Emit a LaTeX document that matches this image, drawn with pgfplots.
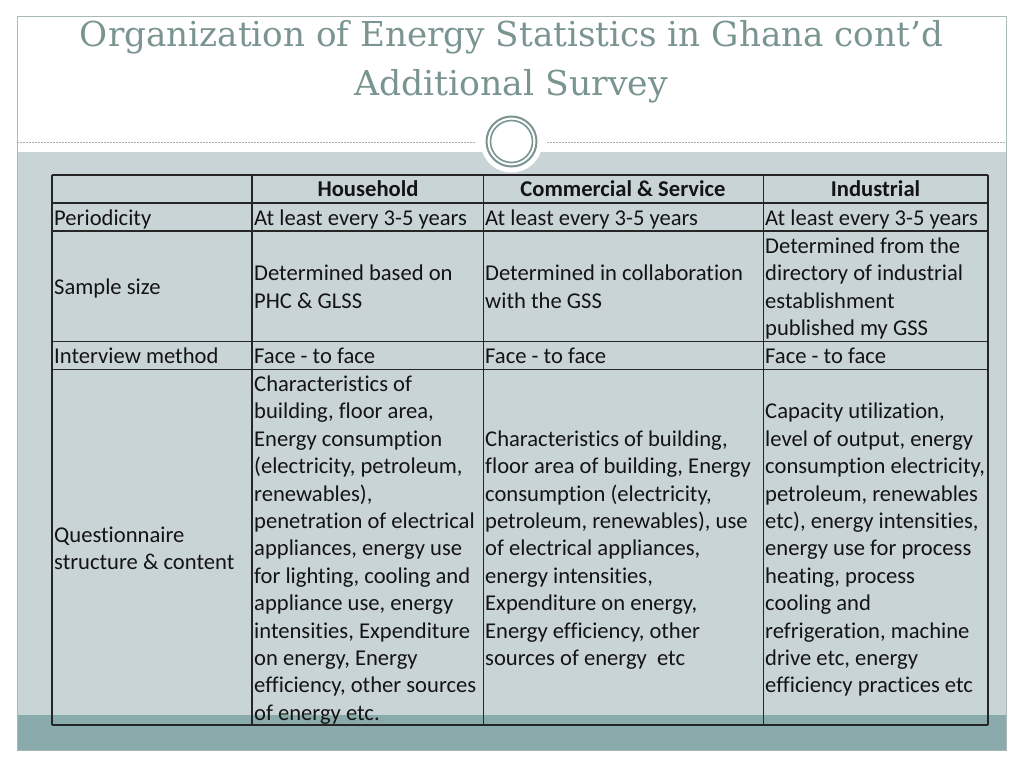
\documentclass[border=0pt]{standalone}
\usepackage{pgfplots}
\pgfplotsset{compat=1.18}
\usepackage{fontspec}
\usepackage{graphicx}
\setmainfont{Carlito}[Ligatures=NoCommon]
\newfontfamily\titlefont{DejaVu Serif}
\definecolor{titlecol}{RGB}{122,149,145}
\definecolor{bandcol}{RGB}{201,212,215}
\definecolor{tealcol}{RGB}{138,171,171}
\definecolor{framecol}{RGB}{170,184,182}
\definecolor{dashcol}{RGB}{165,175,175}
\definecolor{txt}{RGB}{20,20,20}
\newcommand{\Ln}[3]{\node[anchor=base west,inner sep=0pt,text=txt] at (axis cs:#1,#2) {#3};}
\begin{document}
\begin{tikzpicture}
\begin{axis}[hide axis, scale only axis, width=1024pt, height=768pt,
  xmin=0, xmax=1024, ymin=0, ymax=768, y dir=reverse, clip=false,
  font=\fontsize{22.6}{27.4}\selectfont]
% backgrounds
\fill[white] (axis cs:0,0) rectangle (axis cs:1024,768);
\fill[bandcol] (axis cs:17,152) rectangle (axis cs:1006,715);
\fill[tealcol] (axis cs:17,715) rectangle (axis cs:1006,750);
\draw[framecol, line width=1pt] (axis cs:17,17) rectangle (axis cs:1006,750);
\draw[dashcol, line width=1pt, dash pattern=on 2pt off 1pt] (axis cs:17,142.5) -- (axis cs:476,142.5);
\draw[dashcol, line width=1pt, dash pattern=on 2pt off 1pt] (axis cs:547,142.5) -- (axis cs:1006,142.5);
\fill[white] (axis cs:511.5,141.5) circle[radius=31pt];
\draw[titlecol, line width=2pt] (axis cs:511.5,141.5) circle[radius=25pt];
\draw[titlecol, line width=1.6pt] (axis cs:511.5,141.5) circle[radius=21pt];
% title
\node[anchor=base, inner sep=0pt, text=titlecol] at (axis cs:511.5,46.7)
  {\resizebox{863pt}{\height}{\titlefont\fontsize{34.3}{40}\selectfont Organization of Energy Statistics in Ghana cont’d}};
\node[anchor=base, inner sep=0pt, text=titlecol] at (axis cs:511,95)
  {\resizebox{314pt}{\height}{\titlefont\fontsize{34.3}{40}\selectfont Additional Survey}};
% table rules
\addplot[black!85, line width=1.1pt] coordinates {(52,175) (988,175)};
\addplot[black!85, line width=1.1pt] coordinates {(52,203) (988,203)};
\addplot[black!85, line width=1.1pt] coordinates {(52,231) (988,231)};
\addplot[black!85, line width=1.1pt] coordinates {(52,341.5) (988,341.5)};
\addplot[black!85, line width=1.1pt] coordinates {(52,369.5) (988,369.5)};
\addplot[black!85, line width=1.1pt] coordinates {(52,725) (988,725)};
\addplot[black!85, line width=1.1pt] coordinates {(52,175) (52,725)};
\addplot[black!85, line width=1.1pt] coordinates {(252,175) (252,725)};
\addplot[black!85, line width=1.1pt] coordinates {(483.5,175) (483.5,725)};
\addplot[black!85, line width=1.1pt] coordinates {(763.5,175) (763.5,725)};
\addplot[black!85, line width=1.1pt] coordinates {(988,175) (988,725)};
% header
\node[anchor=base,inner sep=0pt,text=txt,font=\fontsize{22.6}{27.4}\selectfont\bfseries] at (axis cs:368,196.5) {Household};
\node[anchor=base,inner sep=0pt,text=txt,font=\fontsize{22.6}{27.4}\selectfont\bfseries] at (axis cs:623,196.5) {Commercial \& Service};
\node[anchor=base,inner sep=0pt,text=txt,font=\fontsize{22.6}{27.4}\selectfont\bfseries] at (axis cs:875.5,196.5) {Industrial};
% periodicity
\Ln{54}{225}{Periodicity}
\Ln{254}{225}{At least every 3-5 years}
\Ln{485}{225}{At least every 3-5 years}
\Ln{765}{225}{At least every 3-5 years}
% sample size
\Ln{54}{294.5}{Sample size}
\Ln{254}{280.5}{Determined based on}
\Ln{254}{308}{PHC \& GLSS}
\Ln{485}{280.5}{Determined in collaboration}
\Ln{485}{308}{with the GSS}
\Ln{765}{253}{Determined from the}
\Ln{765}{280.5}{directory of industrial}
\Ln{765}{308}{establishment}
\Ln{765}{335.5}{published my GSS}
% interview
\Ln{54}{363.5}{Interview method}
\Ln{254}{363.5}{Face - to face}
\Ln{485}{363.5}{Face - to face}
\Ln{765}{363.5}{Face - to face}
% questionnaire
\Ln{54}{542.2}{Questionnaire}
\Ln{54}{569.6}{structure \& content}
\Ln{254}{391.5}{Characteristics of}
\Ln{254}{418.9}{building, floor area,}
\Ln{254}{446.3}{Energy consumption}
\Ln{254}{473.7}{(electricity, petroleum,}
\Ln{254}{501.1}{renewables),}
\Ln{254}{528.5}{penetration of electrical}
\Ln{254}{555.9}{appliances, energy use}
\Ln{254}{583.3}{for lighting, cooling and}
\Ln{254}{610.7}{appliance use, energy}
\Ln{254}{638.1}{intensities, Expenditure}
\Ln{254}{665.5}{on energy, Energy}
\Ln{254}{692.9}{efficiency, other sources}
\Ln{254}{720.3}{of energy etc.}
\Ln{485}{446.3}{Characteristics of building,}
\Ln{485}{473.7}{floor area of building, Energy}
\Ln{485}{501.1}{consumption (electricity,}
\Ln{485}{528.5}{petroleum, renewables), use}
\Ln{485}{555.9}{of electrical appliances,}
\Ln{485}{583.3}{energy intensities,}
\Ln{485}{610.7}{Expenditure on energy,}
\Ln{485}{638.1}{Energy efficiency, other}
\Ln{485}{665.5}{sources of energy\ \ etc}
\Ln{765}{418.9}{Capacity utilization,}
\Ln{765}{446.3}{level of output, energy}
\Ln{765}{473.7}{consumption electricity,}
\Ln{765}{501.1}{petroleum, renewables}
\Ln{765}{528.5}{etc), energy intensities,}
\Ln{765}{555.9}{energy use for process}
\Ln{765}{583.3}{heating, process}
\Ln{765}{610.7}{cooling and}
\Ln{765}{638.1}{refrigeration, machine}
\Ln{765}{665.5}{drive etc, energy}
\Ln{765}{692.9}{efficiency practices etc}
\end{axis}
\end{tikzpicture}
\end{document}
